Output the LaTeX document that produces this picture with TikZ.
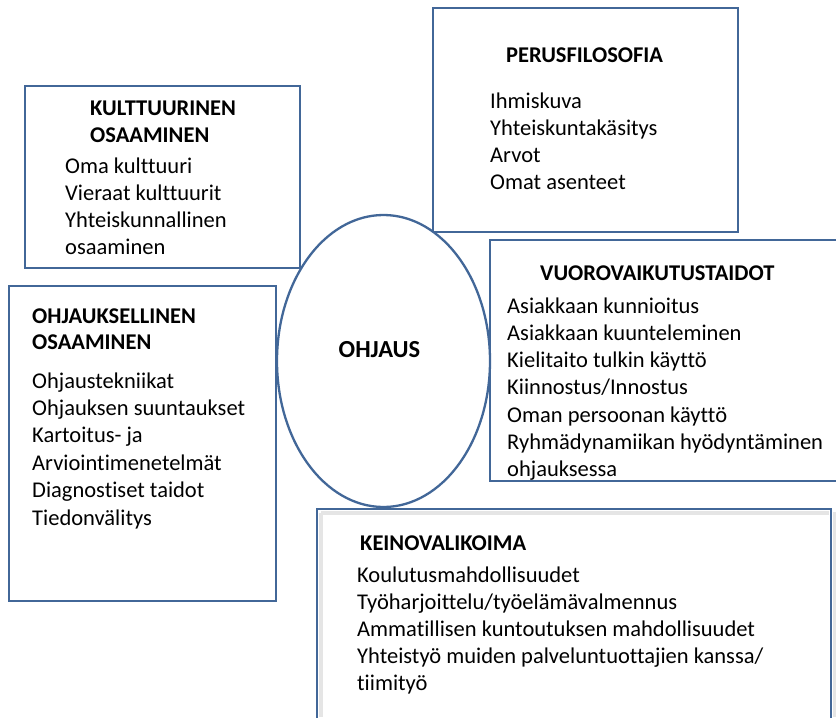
\documentclass[tikz,border=0pt]{standalone}
\usepackage{fontspec}
\setmainfont{Carlito}[Ligatures=NoCommon]
\usetikzlibrary{shapes.geometric}
\definecolor{bord}{RGB}{66,103,152}
\begin{document}
\begin{tikzpicture}[x=1pt,y=-1pt,
  boxnode/.style={draw=bord,line width=2.3pt,fill=white,rectangle,inner sep=0,outer sep=0},
  shade/.style={draw=black!10,line width=4pt},
  head/.style={anchor=base west,inner sep=0,font=\fontsize{22.5}{27}\selectfont\bfseries},
  body/.style={anchor=base west,inner sep=0,font=\fontsize{22.5}{27}\selectfont}]
\useasboundingbox (0,0) rectangle (836,718);
\clip (0,0) rectangle (836,718);
% boxes
\node[boxnode,minimum width=275,minimum height=182] (kult) at (162.5,177) {};
\node[boxnode,minimum width=305,minimum height=224] (perus) at (585.5,120) {};
\node[boxnode,minimum width=267,minimum height=315] (ohj) at (142.5,443.5) {};
\node[boxnode,minimum width=355,minimum height=241] (vuoro) at (667.5,360.5) {};
\node[boxnode,minimum width=514,minimum height=210] (keino) at (574,614) {};
\draw[shade] ([xshift=4pt,yshift=-4pt]keino.north west) -- ([xshift=-2pt,yshift=-4pt]keino.north east);
\draw[shade] ([xshift=4pt,yshift=-4pt]keino.north west) -- ([xshift=4pt,yshift=2pt]keino.south west);
\draw[shade] ([xshift=3.5pt,yshift=-3pt]keino.north east) -- ([xshift=3.5pt,yshift=2pt]keino.south east);
\node[boxnode,minimum width=514,minimum height=210,fill=none] (keinoedge) at (574,614) {};
% ellipse
\node[ellipse,draw=bord,line width=2.3pt,fill=white,inner sep=0,minimum width=213,minimum height=292] (ohjaus) at (383.5,361) {};
\node[anchor=base,inner sep=0,font=\fontsize{24.5}{29}\selectfont\bfseries] (ohjtxt) at (379.5,357) {OHJAUS};
% KULTTUURINEN
\node[head] (kh1) at (90,115) {KULTTUURINEN};
\node[head] (kh2) at (90,142) {OSAAMINEN};
\foreach \t [count=\i] in {Oma kulttuuri,Vieraat kulttuurit,Yhteiskunnallinen,osaaminen}
  \node[body] (kb\i) at (65,{173+(\i-1)*27.3}) {\t};
% PERUSFILOSOFIA
\node[head] (ph) at (506,62) {PERUSFILOSOFIA};
\foreach \t [count=\i] in {Ihmiskuva,Yhteiskuntakäsitys,Arvot,Omat asenteet}
  \node[body] (pb\i) at (490,{108+(\i-1)*27.3}) {\t};
% OHJAUKSELLINEN
\node[head] (oh1) at (32,323) {OHJAUKSELLINEN};
\node[head] (oh2) at (32,349) {OSAAMINEN};
\foreach \t [count=\i] in {Ohjaustekniikat,Ohjauksen suuntaukset,Kartoitus- ja,Arviointimenetelmät,Diagnostiset taidot,Tiedonvälitys}
  \node[body] (ob\i) at (32,{388+(\i-1)*27.4}) {\t};
% VUOROVAIKUTUSTAIDOT
\node[head] (vh) at (540,280) {VUOROVAIKUTUSTAIDOT};
\foreach \t [count=\i] in {Asiakkaan kunnioitus,Asiakkaan kuunteleminen,Kielitaito tulkin käyttö,Kiinnostus/Innostus,Oman persoonan käyttö,Ryhmädynamiikan hyödyntäminen,ohjauksessa}
  \node[body] (vb\i) at (507,{313+(\i-1)*27.3}) {\t};
% KEINOVALIKOIMA
\node[head] (keh) at (360,550) {KEINOVALIKOIMA};
\foreach \t [count=\i] in {Koulutusmahdollisuudet,Työharjoittelu/työelämävalmennus,Ammatillisen kuntoutuksen mahdollisuudet,Yhteistyö muiden palveluntuottajien kanssa/,tiimityö}
  \node[body] (keb\i) at (357,{582+(\i-1)*27.1}) {\t};
\end{tikzpicture}
\end{document}
